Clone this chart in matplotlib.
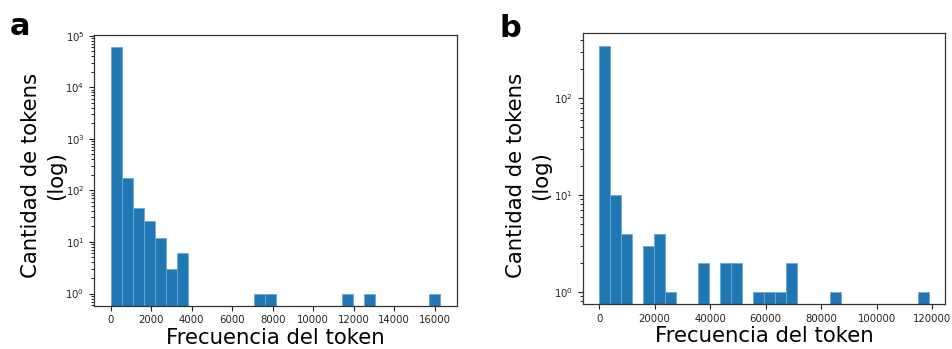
import numpy as np
import matplotlib
matplotlib.use("Agg")
import matplotlib.pyplot as plt

# ---------------- datos ----------------
# panel a: 30 bins entre 0 y ~16290
max_a = 16290
counts_a = [59000, 177, 45, 25, 12, 3, 6, 0, 0, 0,
            0, 0, 0, 1, 1, 0, 0, 0, 0, 0,
            0, 1, 0, 1, 0, 0, 0, 0, 0, 1]
xticks_a = [0, 2000, 4000, 6000, 8000, 10000, 12000, 14000, 16000]

# panel b: 30 bins entre 0 y ~118800
max_b = 118800
counts_b = [348, 10, 4, 0, 3, 4, 1, 0, 0, 2,
            0, 2, 2, 0, 1, 1, 1, 2, 0, 0,
            0, 1, 0, 0, 0, 0, 0, 0, 0, 1]
xticks_b = [0, 20000, 40000, 60000, 80000, 100000, 120000]

x_label = "Frecuencia del token"
y_label = "Cantidad de tokens\n(log)"
# ---------------------------------------

LABEL_FONT = ["DejaVu Sans"]
BAR_COLOR = "#1f77b4"
EDGE_COLOR = "#6ea6d4"

fig = plt.figure(figsize=(9.52, 3.49), dpi=100)
ax_a = fig.add_axes([0.099, 0.124, 0.381, 0.777])
ax_b = fig.add_axes([0.612, 0.129, 0.381, 0.776])


def draw_hist(ax, counts, xmax, xticks, ylim, ylab_xy):
    edges = np.linspace(0, xmax, len(counts) + 1)
    ax.hist(edges[:-1], bins=edges, weights=counts, color=BAR_COLOR,
            edgecolor=EDGE_COLOR, linewidth=0.6, log=True)
    ax.set_ylim(*ylim)
    ax.set_xticks(xticks)
    ax.tick_params(labelsize=7.3, colors="#222222", width=0.8, length=3.5)
    ax.tick_params(which="minor", width=0.6, length=2)
    for s in ax.spines.values():
        s.set_color("#333333")
        s.set_linewidth(0.9)
    ax.set_xlabel(x_label, family=LABEL_FONT, fontsize=15.3, labelpad=1.5)
    ax.set_ylabel(y_label, family=LABEL_FONT, fontsize=15.3,
                  linespacing=1.3)
    ax.yaxis.set_label_coords(*ylab_xy)


draw_hist(ax_a, counts_a, max_a, xticks_a, (0.58, 1.05e5), (-0.078, 0.48))
draw_hist(ax_b, counts_b, max_b, xticks_b, (0.75, 470), (-0.088, 0.475))

fig.text(0.010, 0.900, "a", fontsize=22, fontweight="bold")
fig.text(0.525, 0.893, "b", fontsize=22, fontweight="bold")

fig.savefig("out.png", dpi=100)
